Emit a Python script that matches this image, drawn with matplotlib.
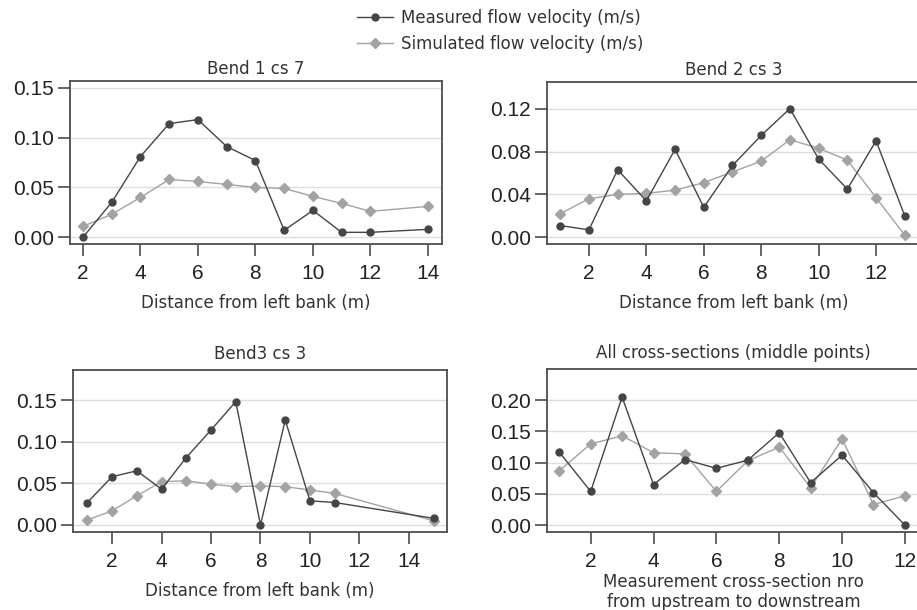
import matplotlib
matplotlib.use('Agg')
from matplotlib import pyplot as plt
from matplotlib.ticker import FormatStrFormatter

# Bend 1 cs 7
b1_x = [2, 3, 4, 5, 6, 7, 8, 9, 10, 11, 12, 14]
b1_meas = [0.000, 0.035, 0.081, 0.114, 0.118, 0.091, 0.077, 0.007, 0.027, 0.005, 0.005, 0.008]
b1_sim = [0.011, 0.023, 0.040, 0.058, 0.056, 0.053, 0.050, 0.049, 0.041, 0.034, 0.026, 0.031]

# Bend 2 cs 3
b2_x = [1, 2, 3, 4, 5, 6, 7, 8, 9, 10, 11, 12, 13]
b2_meas = [0.011, 0.007, 0.063, 0.034, 0.082, 0.028, 0.067, 0.095, 0.120, 0.073, 0.045, 0.090, 0.020]
b2_sim = [0.022, 0.036, 0.040, 0.041, 0.044, 0.051, 0.061, 0.071, 0.091, 0.083, 0.072, 0.037, 0.002]

# Bend3 cs 3
b3_x = [1, 2, 3, 4, 5, 6, 7, 8, 9, 10, 11, 15]
b3_meas = [0.027, 0.058, 0.065, 0.043, 0.081, 0.114, 0.148, 0.000, 0.126, 0.029, 0.027, 0.008]
b3_sim = [0.006, 0.017, 0.035, 0.052, 0.053, 0.049, 0.046, 0.047, 0.046, 0.042, 0.038, 0.005]

# All cross-sections (middle points)
all_x = [1, 2, 3, 4, 5, 6, 7, 8, 9, 10, 11, 12]
all_meas = [0.117, 0.054, 0.205, 0.065, 0.105, 0.091, 0.104, 0.148, 0.068, 0.112, 0.052, 0.000]
all_sim = [0.087, 0.130, 0.143, 0.116, 0.114, 0.054, 0.103, 0.125, 0.060, 0.138, 0.033, 0.047]

W, H = 917, 610
fig = plt.figure(figsize=(W / 100, H / 100), dpi=100)

MEAS_C = '#454545'
SIM_C = '#a3a3a3'
AX_C = '#4d4d4d'


def box(left, top, right, bottom):
    return [left / W, 1 - bottom / H, (right - left) / W, (bottom - top) / H]


panels = [
    # pos, title, x, meas, sim, xlim, ylim, yticks, xticks, xlabel, title pad, label pad
    (box(70, 81, 442, 244), 'Bend 1 cs 7', b1_x, b1_meas, b1_sim,
     (1.55, 14.49), (-0.0067, 0.1567), [0, 0.05, 0.10, 0.15], range(2, 15, 2),
     'Distance from left bank (m)', 5, 8),
    (box(547, 82, 920, 244), 'Bend 2 cs 3', b2_x, b2_meas, b2_sim,
     (0.54, 13.53), (-0.0062, 0.1448), [0, 0.04, 0.08, 0.12], range(2, 13, 2),
     'Distance from left bank (m)', 5, 8),
    (box(73, 370, 447, 532), 'Bend3 cs 3', b3_x, b3_meas, b3_sim,
     (0.42, 15.54), (-0.0084, 0.186), [0, 0.05, 0.10, 0.15], range(2, 15, 2),
     'Distance from left bank (m)', 8, 8),
    (box(547, 369, 920, 532), 'All cross-sections (middle points)', all_x, all_meas, all_sim,
     (0.61, 12.48), (-0.011, 0.25), [0, 0.05, 0.10, 0.15, 0.20], range(2, 13, 2),
     'Measurement cross-section nro\nfrom upstream to downstream', 8, 1.5),
]

axes = []
for pos, title, x, meas, sim, xlim, ylim, yt, xt, xlabel, tpad, lpad in panels:
    ax = fig.add_axes(pos)
    for y in yt:
        ax.axhline(y, color='#dddddd', lw=1, zorder=0)
    ax.plot(x, sim, color=SIM_C, lw=1, marker='D', ms=5, mec=SIM_C, mfc=SIM_C,
            label='Simulated flow velocity (m/s)', zorder=2)
    ax.plot(x, meas, color=MEAS_C, lw=1, marker='o', ms=5, mec=MEAS_C, mfc=MEAS_C,
            label='Measured flow velocity (m/s)', zorder=3)
    ax.set_xlim(*xlim)
    ax.set_ylim(*ylim)
    ax.set_yticks(yt)
    ax.set_xticks(list(xt))
    ax.yaxis.set_major_formatter(FormatStrFormatter('%.2f'))
    for s in ax.spines.values():
        s.set_color(AX_C)
        s.set_linewidth(1.3)
    ax.tick_params(direction='out', length=8.5, width=1.2, color=AX_C,
                   labelsize=15, labelcolor='#222222')
    ax.tick_params(axis='x', pad=6)
    ax.tick_params(axis='y', pad=3)
    for lab in ax.get_xticklabels() + ax.get_yticklabels():
        lab.set_family('Liberation Sans')
    ax.set_title(title, fontsize=12, color='#333333', pad=tpad, family='DejaVu Sans')
    ax.set_xlabel(xlabel, fontsize=12, color='#333333', family='DejaVu Sans', labelpad=lpad,
                  linespacing=1.15)
    axes.append(ax)

h, l = axes[0].get_legend_handles_labels()
fig.legend(h[::-1], l[::-1], loc='center', bbox_to_anchor=(500 / W, 1 - 31 / H),
           frameon=False, handlelength=2.2, handletextpad=0.45,
           labelspacing=0.45, prop={'family': 'DejaVu Sans', 'size': 12})
for t in fig.legends[0].get_texts():
    t.set_color('#333333')

fig.savefig('out.png', dpi=100)
